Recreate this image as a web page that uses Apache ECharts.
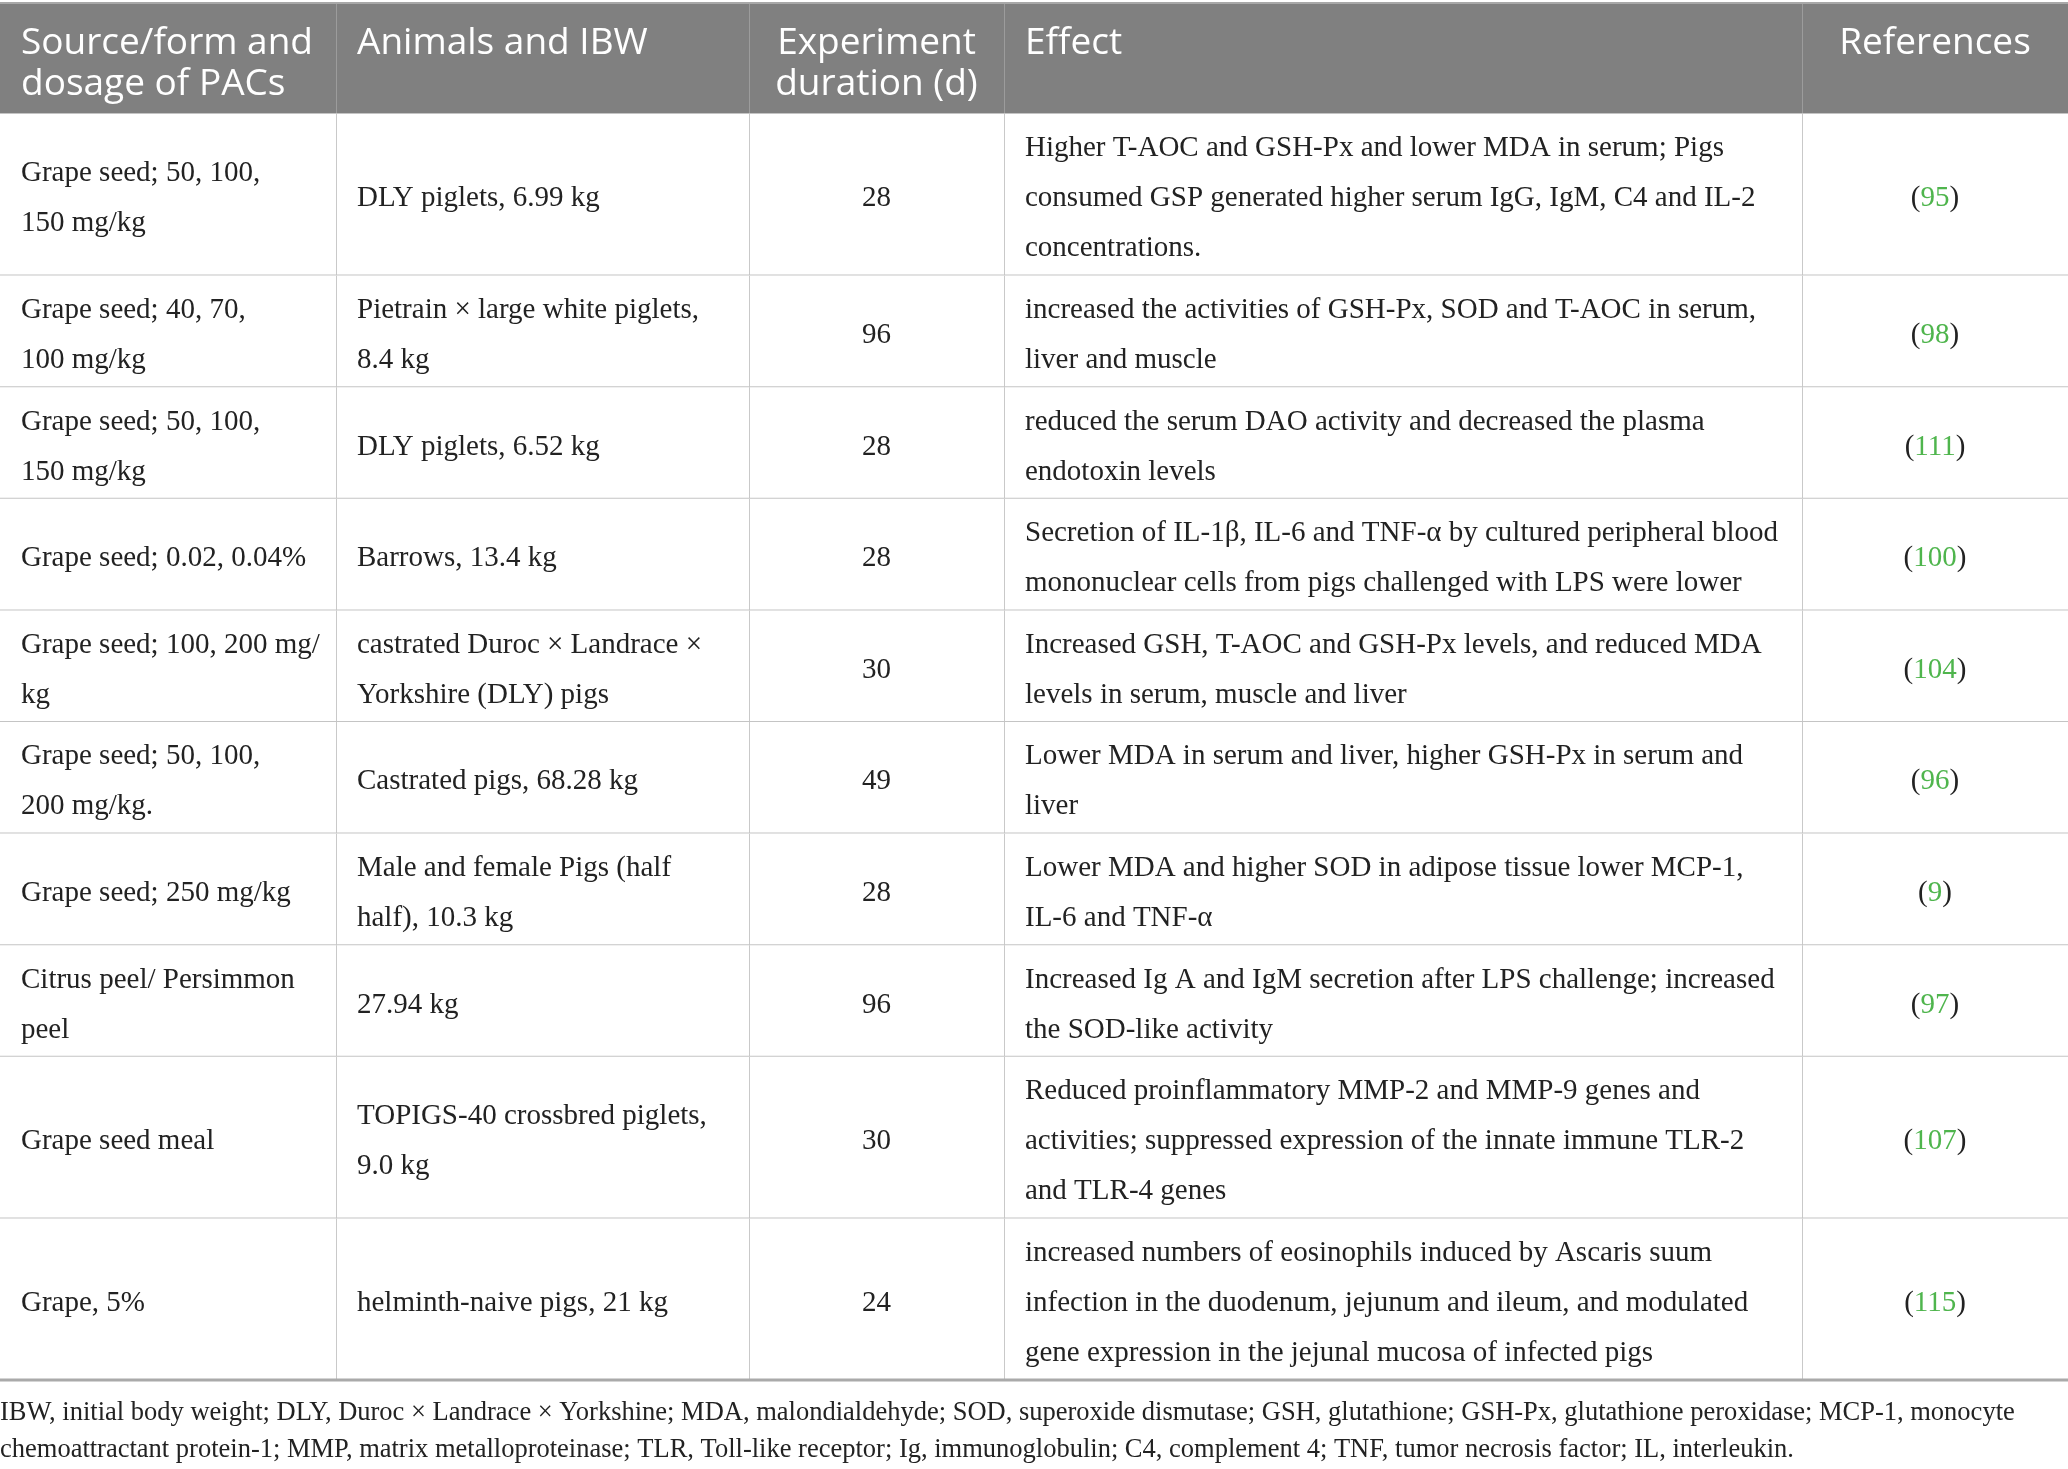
<!DOCTYPE html>
<html>
<head>
<meta charset="utf-8">
<script src="https://cdn.jsdelivr.net/npm/echarts@6/dist/echarts.min.js"></script>
<style>
  html, body { margin: 0; padding: 0; background: #fff; }
  #main { width: 2068px; height: 1469px; }
</style>
</head>
<body>
<div id="main"></div>
<script>
(function () {
    'use strict';

    // table contents, line breaks as in the printed table
    var headers = ['Source/form and\ndosage of PACs', 'Animals and IBW', 'Experiment\nduration (d)', 'Effect', 'References'];
    var sources = [
        'Grape seed; 50, 100,\n150 mg/kg',
        'Grape seed; 40, 70,\n100 mg/kg',
        'Grape seed; 50, 100,\n150 mg/kg',
        'Grape seed; 0.02, 0.04%',
        'Grape seed; 100, 200 mg/\nkg',
        'Grape seed; 50, 100,\n200 mg/kg.',
        'Grape seed; 250 mg/kg',
        'Citrus peel/ Persimmon\npeel',
        'Grape seed meal',
        'Grape, 5%'
    ];
    var animals = [
        'DLY piglets, 6.99 kg',
        'Pietrain \u00d7 large white piglets,\n8.4 kg',
        'DLY piglets, 6.52 kg',
        'Barrows, 13.4 kg',
        'castrated Duroc \u00d7 Landrace \u00d7\nYorkshire (DLY) pigs',
        'Castrated pigs, 68.28 kg',
        'Male and female Pigs (half\nhalf), 10.3 kg',
        '27.94 kg',
        'TOPIGS-40 crossbred piglets,\n9.0 kg',
        'helminth-naive pigs, 21 kg'
    ];
    var durations = [28, 96, 28, 28, 30, 49, 28, 96, 30, 24];
    var effects = [
        'Higher T-AOC and GSH-Px and lower MDA in serum; Pigs\nconsumed GSP generated higher serum IgG, IgM, C4 and IL-2\nconcentrations.',
        'increased the activities of GSH-Px, SOD and T-AOC in serum,\nliver and muscle',
        'reduced the serum DAO activity and decreased the plasma\nendotoxin levels',
        'Secretion of IL-1\u03b2, IL-6 and TNF-\u03b1 by cultured peripheral blood\nmononuclear cells from pigs challenged with LPS were lower',
        'Increased GSH, T-AOC and GSH-Px levels, and reduced MDA\nlevels in serum, muscle and liver',
        'Lower MDA in serum and liver, higher GSH-Px in serum and\nliver',
        'Lower MDA and higher SOD in adipose tissue lower MCP-1,\nIL-6 and TNF-\u03b1',
        'Increased Ig A and IgM secretion after LPS challenge; increased\nthe SOD-like activity',
        'Reduced proinflammatory MMP-2 and MMP-9 genes and\nactivities; suppressed expression of the innate immune TLR-2\nand TLR-4 genes',
        'increased numbers of eosinophils induced by Ascaris suum\ninfection in the duodenum, jejunum and ileum, and modulated\ngene expression in the jejunal mucosa of infected pigs'
    ];
    var refs = [95, 98, 111, 100, 104, 96, 9, 97, 107, 115];
    var footnote = 'IBW, initial body weight; DLY, Duroc \u00d7 Landrace \u00d7 Yorkshine; MDA, malondialdehyde; SOD, superoxide dismutase; GSH, glutathione; GSH-Px, glutathione peroxidase; MCP-1, monocyte\n' +
        'chemoattractant protein-1; MMP, matrix metalloproteinase; TLR, Toll-like receptor; Ig, immunoglobulin; C4, complement 4; TNF, tumor necrosis factor; IL, interleukin.';

    // layout
    var colWidths = [336, 413, 255, 798, 266];
    var colAlign = ['left', 'left', 'center', 'left', 'center'];
    var headerH = 111, lineGap = 50, rowPad = 11.6, cellPadX = 21;
    var serif = '"Liberation Serif", "DejaVu Serif", serif';
    var sans = '"Open Sans", "Noto Sans", sans-serif';

    function nLines(s) { return String(s).split('\n').length; }

    var colX = [0];
    colWidths.forEach(function (w, i) { colX.push(colX[i] + w); });
    var rowY = [0, headerH];
    sources.forEach(function (s, i) {
        var n = Math.max(nLines(s), nLines(animals[i]), nLines(effects[i]));
        rowY.push(rowY[rowY.length - 1] + n * lineGap + rowPad);
    });
    var totalW = colX[colX.length - 1];
    var totalH = rowY[rowY.length - 1];

    // one item per cell: [x0, y0, x1, y1, col, row]
    var cells = [];
    var texts = [];
    for (var r = 0; r <= sources.length; r++) {
        for (var c = 0; c < colWidths.length; c++) {
            cells.push([colX[c], rowY[r], colX[c + 1], rowY[r + 1], c, r]);
            if (r === 0) {
                texts.push(headers[c]);
            } else {
                texts.push([sources, animals, durations, effects, refs][c][r - 1]);
            }
        }
    }

    function renderCell(params, api) {
        var x0 = api.value(0), y0 = api.value(1), x1 = api.value(2), y1 = api.value(3);
        var c = api.value(4), r = api.value(5);
        var p0 = api.coord([x0, y0]);
        var p1 = api.coord([x1, y1]);
        var w = p1[0] - p0[0], h = p1[1] - p0[1];
        var isHead = r === 0;
        var txt = String(texts[params.dataIndex]);
        var midY = (p0[1] + p1[1]) / 2 + 4;
        var children = [{
            type: 'rect',
            shape: { x: p0[0], y: p0[1], width: w, height: h },
            style: { fill: isHead ? '#808080' : '#ffffff' }
        }];
        if (c > 0) {
            children.push({
                type: 'line',
                shape: { x1: p0[0] + 0.5, y1: p0[1], x2: p0[0] + 0.5, y2: p1[1] },
                style: { stroke: isHead ? '#9c9c9c' : '#c9c9c9', lineWidth: 1 }
            });
        }
        children.push({
            type: 'line',
            shape: { x1: p0[0], y1: p1[1], x2: p1[0], y2: p1[1] },
            style: { stroke: r === sources.length ? '#aaaaaa' : '#c4c4c4', lineWidth: r === sources.length ? 3 : 2 }
        });
        if (r === 0) {
            children.push({
                type: 'line',
                shape: { x1: p0[0], y1: p0[1], x2: p1[0], y2: p0[1] },
                style: { stroke: '#a8a8a8', lineWidth: 2 }
            });
        }
        var align = colAlign[c];
        var tx = align === 'center' ? (p0[0] + p1[0]) / 2 : p0[0] + cellPadX;
        if (isHead) {
            children.push({
                type: 'text',
                x: tx, y: p0[1] + 20,
                style: {
                    text: txt, fill: '#ffffff', font: '37px ' + sans,
                    align: align, verticalAlign: 'top', lineHeight: 41
                }
            });
        } else if (c === 4) {
            children.push({
                type: 'text',
                x: tx, y: midY,
                style: {
                    text: '{p|(}{g|' + txt + '}{p|)}',
                    align: 'center', verticalAlign: 'middle',
                    rich: {
                        p: { fill: '#222222', font: '29px ' + serif },
                        g: { fill: '#4fb54d', font: '29px ' + serif }
                    }
                }
            });
        } else {
            children.push({
                type: 'text',
                x: tx, y: midY,
                style: {
                    text: txt, fill: '#222222', font: '29px ' + serif,
                    align: align, verticalAlign: 'middle', lineHeight: lineGap
                }
            });
        }
        return { type: 'group', children: children };
    }

    var myChart = echarts.init(document.getElementById('main'));
    var option = {
        backgroundColor: '#ffffff',
        animation: false,
        title: {
            text: footnote,
            left: 0, top: 1395,
            padding: 0,
            textStyle: { fontFamily: serif, fontSize: 26.5, fontWeight: 'normal', color: '#222222', lineHeight: 37 }
        },
        grid: { left: 0, top: 3, width: totalW, height: totalH },
        xAxis: { type: 'value', min: 0, max: totalW, show: false },
        yAxis: { type: 'value', min: 0, max: totalH, inverse: true, show: false },
        series: [{
            type: 'custom',
            renderItem: renderCell,
            data: cells,
            silent: true
        }]
    };
    myChart.setOption(option);
}());
</script>
</body>
</html>
